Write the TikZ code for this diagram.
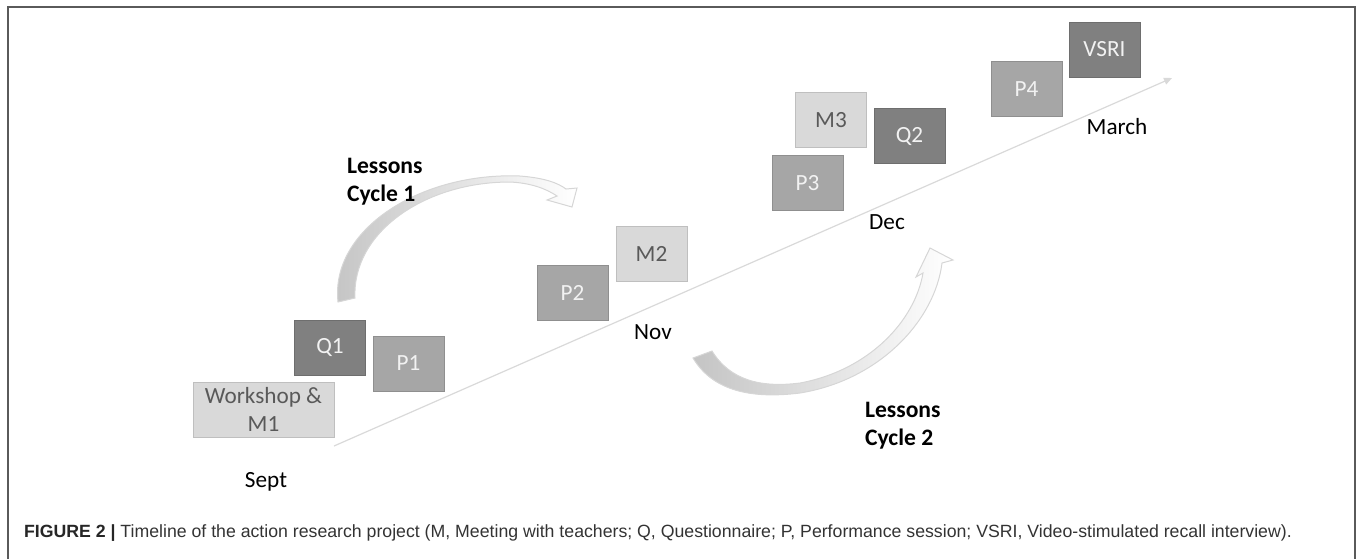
\documentclass[tikz,border=0pt]{standalone}
\usepackage{fontspec}
\setmainfont{Carlito}
\newfontfamily\capfont{Liberation Sans}
\usetikzlibrary{arrows.meta,positioning}

\definecolor{lightfill}{HTML}{D9D9D9}\definecolor{lightline}{HTML}{BFBFBF}\definecolor{lighttext}{HTML}{595959}
\definecolor{midfill}{HTML}{A6A6A6}\definecolor{midline}{HTML}{8F8F8F}
\definecolor{darkfill}{HTML}{808080}\definecolor{darkline}{HTML}{6E6E6E}
\definecolor{boxtext}{HTML}{F2F2F2}\definecolor{frameline}{HTML}{5A5A5A}
\definecolor{lineline}{HTML}{D9D9D9}\definecolor{bandfill}{HTML}{C4C4C4}\definecolor{bandline}{HTML}{D6D6D6}
\definecolor{captext}{HTML}{333333}

\tikzset{
  stagebox/.style={draw=#1line, fill=#1fill, line width=0.5pt, minimum width=35.5pt, minimum height=27.5pt,
    inner sep=0pt, text=boxtext, align=center, font=\fontsize{11.6}{14}\selectfont},
  lightbox/.style={stagebox=light, text=lighttext},
  midbox/.style={stagebox=mid},
  darkbox/.style={stagebox=dark},
  month/.style={font=\fontsize{11.6}{13}\selectfont},
  cyclelabel/.style={anchor=west, align=left, font=\bfseries\fontsize{11.8}{14}\selectfont},
  cycleband/.style={draw=bandline, line width=0.5pt, left color=bandfill, right color=white},
  timeline/.style={draw=lineline, line width=0.6pt, -{Triangle[length=4pt,width=3.5pt]}}
}

\begin{document}
\begin{tikzpicture}[x=0.5pt,y=-0.5pt]
  \useasboundingbox (0,0) rectangle (1358,559);
  \draw[frameline, line width=1pt] (7.5,559) -- (7.5,6.5) -- (1354.5,6.5) -- (1354.5,559);

  % time axis
  \coordinate (tstart) at (334,446); \coordinate (tend) at (1172,78);
  \draw[timeline] (tstart) -- (tend);

  % lesson cycles
  \path[cycleband] (338,302) .. controls (330,230) and (420,172) .. (520,176) .. controls (545,178) and (558,183) .. (566,189)
    -- (577,188) -- (572,207) -- (547,200) -- (557,196) .. controls (545,188) and (530,183) .. (510,182)
    .. controls (425,182) and (352,232) .. (355,298) -- cycle;
  \path[cycleband] (693,358) .. controls (715,395) and (760,398) .. (800,393) .. controls (880,380) and (935,320) .. (942,263)
    -- (953,260) -- (930,248) -- (916,277) -- (923,273) .. controls (915,320) and (870,370) .. (800,383)
    .. controls (760,388) and (730,380) .. (712,351) -- cycle;

  % stages
  \node[lightbox, minimum width=70.5pt] (ws) at (263.5,409.5) {Workshop \&\\M1};
  \foreach \n/\s/\x/\y in {Q1/darkbox/330/347.5, P1/midbox/408.5/363.5, P2/midbox/572.5/292.5, M2/lightbox/651.5/253.5,
      P3/midbox/807.5/183, M3/lightbox/831/120, Q2/darkbox/909.5/136, P4/midbox/1026.5/89, VSRI/darkbox/1104.5/49.5}
    { \node[\s] (\n) at (\x,\y) {\n}; }

  \node[month] (sept) at (266,482) {Sept}; \node[month] (nov) at (653,332) {Nov};
  \node[month] (dec) at (887,222) {Dec}; \node[month] (march) at (1117,127) {March};
  \node[cyclelabel] (cyc1) at (340,182) {Lessons\\Cycle 1};
  \node[cyclelabel] (cyc2) at (858,426) {Lessons\\Cycle 2};

  \node[anchor=west, text=captext, font=\capfont\fontsize{8.85}{10}\selectfont] (caption) at (17,533)
    {\textcolor{black!85}{\textbf{FIGURE 2 |}} Timeline of the action research project (M, Meeting with teachers; Q, Questionnaire; P, Performance session; VSRI, Video-stimulated recall interview).};
\end{tikzpicture}
\end{document}
